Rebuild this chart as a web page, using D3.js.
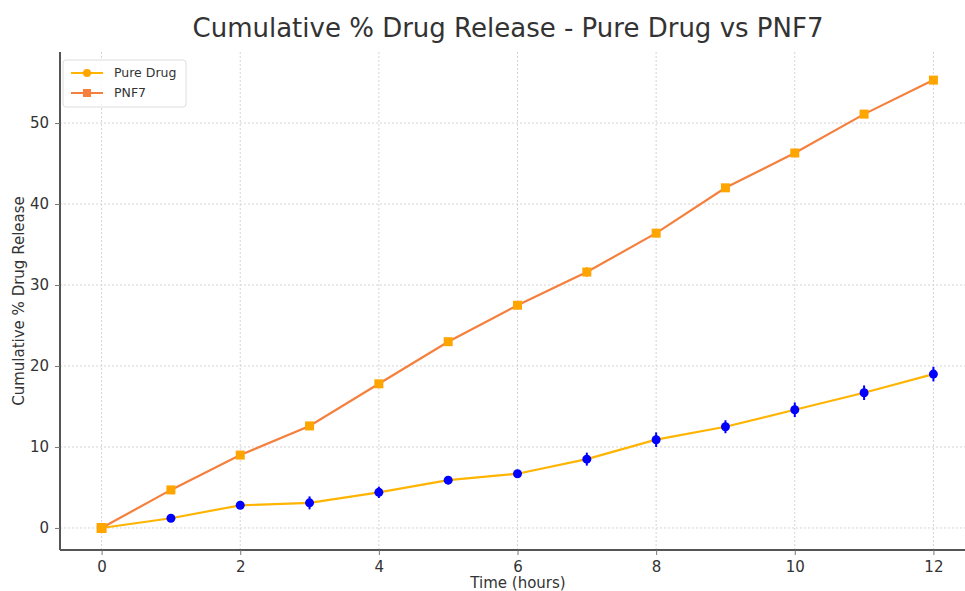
<!DOCTYPE html>
<html>
<head>
<meta charset="utf-8">
<script src="https://cdn.jsdelivr.net/npm/d3@7"></script>
<style>
  body { margin: 0; background: #fff; }
  text { font-family: "DejaVu Sans", sans-serif; }
</style>
</head>
<body>
<svg id="chart" width="965" height="591"></svg>
<script>
// data
const hours = [0, 1, 2, 3, 4, 5, 6, 7, 8, 9, 10, 11, 12];
const pureDrug = [0, 1.2, 2.8, 3.1, 4.4, 5.9, 6.7, 8.5, 10.9, 12.5, 14.6, 16.7, 19.0];
const pureDrugErr = [0.2, 0.3, 0.3, 0.8, 0.7, 0.5, 0.4, 0.8, 0.9, 0.8, 0.9, 0.9, 0.9];
const pnf7 = [0, 4.7, 9.0, 12.6, 17.8, 23.0, 27.5, 31.6, 36.4, 42.0, 46.3, 51.1, 55.3];
const pnf7Err = [0.2, 0.3, 0.3, 0.3, 0.3, 0.3, 0.3, 0.6, 0.3, 0.3, 0.5, 0.3, 0.4];
const xTicks = [0, 2, 4, 6, 8, 10, 12];
const yTicks = [0, 10, 20, 30, 40, 50];

const svg = d3.select("#chart");

// plot area
const plotLeft = 60, plotRight = 975, plotTop = 52, plotBottom = 550;

const x = d3.scaleLinear().domain([-0.6, 12.6]).range([plotLeft, plotRight]);
const y = d3.scaleLinear().domain([-2.72, 58.77]).range([plotBottom, plotTop]);

//grid
svg.append("g").selectAll("line").data(xTicks).enter()
    .append("line")
        .attr("x1", d => x(d)).attr("x2", d => x(d))
        .attr("y1", plotTop).attr("y2", plotBottom)
        .attr("stroke", "#d4d4d4").attr("stroke-width", 1)
        .attr("stroke-dasharray", "2,2");
svg.append("g").selectAll("line").data(yTicks).enter()
    .append("line")
        .attr("x1", plotLeft).attr("x2", plotRight)
        .attr("y1", d => y(d)).attr("y2", d => y(d))
        .attr("stroke", "#d4d4d4").attr("stroke-width", 1)
        .attr("stroke-dasharray", "2,2");

// axes
const xAxis = svg.append("g")
    .attr("transform", `translate(0,${plotBottom})`)
    .call(d3.axisBottom(x).tickValues(xTicks).tickSize(5).tickPadding(6));
const yAxis = svg.append("g")
    .attr("transform", `translate(${plotLeft},0)`)
    .call(d3.axisLeft(y).tickValues(yTicks).tickSize(5).tickPadding(6));

[xAxis, yAxis].forEach(a => {
    a.select(".domain").attr("stroke", "#555").attr("stroke-width", 2);
    a.selectAll(".tick line").attr("stroke", "#777");
    a.selectAll(".tick text").attr("fill", "#333").style("font-size", "15px");
});
xAxis.select(".domain").attr("d", `M${plotLeft},0H${plotRight}`);
yAxis.select(".domain").attr("d", `M0,${plotBottom}V${plotTop}`);

// axis labels
svg.append("text")
    .attr("x", 518).attr("y", 588)
    .attr("text-anchor", "middle")
    .attr("fill", "#333")
    .style("font-size", "15px")
    .text("Time (hours)");
svg.append("text")
    .attr("transform", `translate(24,${(plotTop + plotBottom) / 2}) rotate(-90)`)
    .attr("text-anchor", "middle")
    .attr("fill", "#333")
    .style("font-size", "15px")
    .text("Cumulative % Drug Release");

// title
svg.append("text")
    .attr("x", 508).attr("y", 37)
    .attr("text-anchor", "middle")
    .attr("fill", "#333")
    .style("font-size", "26px")
    .text("Cumulative % Drug Release - Pure Drug vs PNF7");

const line = d3.line().x(d => x(d[0])).y(d => y(d[1]));

// PNF7
const pnfData = hours.map((h, i) => [h, pnf7[i], pnf7Err[i]]);
svg.append("path")
    .datum(pnfData)
    .attr("d", line)
    .attr("fill", "none")
    .attr("stroke", "#f5803e")
    .attr("stroke-width", 2.2);
svg.append("g").selectAll("line").data(pnfData).enter()
    .append("line")
        .attr("x1", d => x(d[0])).attr("x2", d => x(d[0]))
        .attr("y1", d => y(d[1] - d[2])).attr("y2", d => y(d[1] + d[2]))
        .attr("stroke", "#ffa500").attr("stroke-width", 2);
svg.append("g").selectAll("rect").data(pnfData).enter()
    .append("rect")
        .attr("x", d => x(d[0]) - 4.5).attr("y", d => y(d[1]) - 4.5)
        .attr("width", 9).attr("height", 9)
        .attr("fill", "#ffa500");

// Pure drug
const pureData = hours.map((h, i) => [h, pureDrug[i], pureDrugErr[i]]);
svg.append("path")
    .datum(pureData)
    .attr("d", line)
    .attr("fill", "none")
    .attr("stroke", "#ffb400")
    .attr("stroke-width", 2.2);
svg.append("g").selectAll("line").data(pureData.slice(1)).enter()
    .append("line")
        .attr("x1", d => x(d[0])).attr("x2", d => x(d[0]))
        .attr("y1", d => y(d[1] - d[2])).attr("y2", d => y(d[1] + d[2]))
        .attr("stroke", "#0000ff").attr("stroke-width", 2);
svg.append("g").selectAll("circle").data(pureData.slice(1)).enter()
    .append("circle")
        .attr("cx", d => x(d[0])).attr("cy", d => y(d[1]))
        .attr("r", 4.5)
        .attr("fill", "#0000ff");
// first point sits under the PNF7 square
svg.append("rect")
    .attr("x", x(hours[0]) - 5).attr("y", y(pnf7[0]) - 5)
    .attr("width", 10).attr("height", 10)
    .attr("fill", "#ffa500");

// legend
const legend = svg.append("g").attr("transform", "translate(63,60)");
legend.append("rect")
    .attr("width", 123).attr("height", 47)
    .attr("rx", 3)
    .attr("fill", "#fff").attr("fill-opacity", 0.85)
    .attr("stroke", "#ddd");
const legendItems = [
    { name: "Pure Drug", stroke: "#ffb400", marker: "circle" },
    { name: "PNF7", stroke: "#f5803e", marker: "square" }
];
legendItems.forEach((d, i) => {
    const g = legend.append("g").attr("transform", `translate(0,${13 + i * 20})`);
    g.append("line").attr("x1", 8).attr("x2", 40)
        .attr("stroke", d.stroke).attr("stroke-width", 2);
    if (d.marker === "circle") {
        g.append("circle").attr("cx", 24).attr("r", 4).attr("fill", "#ffa500");
    } else {
        g.append("rect").attr("x", 20).attr("y", -4).attr("width", 8).attr("height", 8).attr("fill", d.stroke);
    }
    g.append("text").attr("x", 51).attr("dy", "0.35em")
        .attr("fill", "#333").style("font-size", "12.5px")
        .text(d.name);
});
</script>
</body>
</html>
